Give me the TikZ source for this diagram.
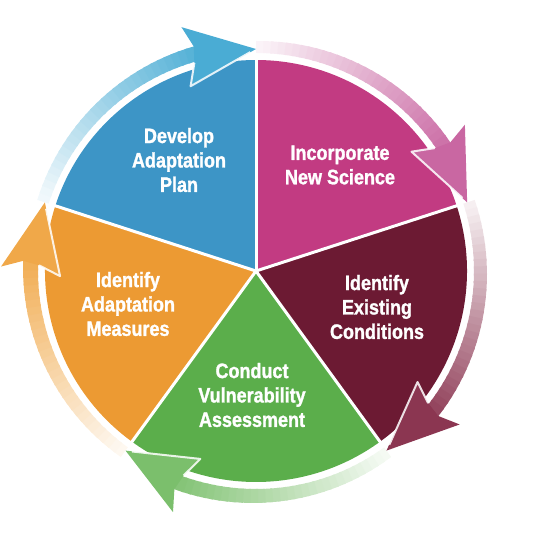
\documentclass[tikz,border=0pt]{standalone}
\usepackage{fontspec}
\setmainfont{Liberation Sans}[FakeStretch=0.86,BoldFeatures={FakeBold=1.3}]
\definecolor{planblue}{HTML}{3D95C6}
\definecolor{sciencepink}{HTML}{C23B82}
\definecolor{existred}{HTML}{6C1A33}
\definecolor{assessgreen}{HTML}{5BAE4B}
\definecolor{measureorange}{HTML}{EC9A33}
\definecolor{planarrow}{HTML}{4AACD4}
\definecolor{sciencearrow}{HTML}{C967A2}
\definecolor{existarrow}{HTML}{8B3651}
\definecolor{assessarrow}{HTML}{7BBF6C}
\definecolor{measurearrow}{HTML}{F0A849}

\begin{document}
\begin{tikzpicture}[x=1bp,y=1bp,
  steplabel/.style={text=white,font=\bfseries\fontsize{21}{24.5}\selectfont,align=center},
  gap/.style={white,line width=3bp},
  glow/.style={white,line width=2bp,opacity=0.85,line join=round}]
  \useasboundingbox (-256,-273) rectangle (279,271);
  % wheel
  \foreach \a/\c in {90/planblue,18/sciencepink,-54/existred,-126/assessgreen,-198/measureorange}
    \fill[\c] (0,0) -- (\a:211) arc[start angle=\a,end angle=\a+72,radius=211] -- cycle;
  \foreach \a in {90,18,-54,-126,162}
    \draw[gap] (0,0) -- (\a:213);
  % arrow bodies, pale at the tail
  \foreach \s/\e/\c in {162/90/planarrow,90/18/sciencearrow,18/-54/existarrow,-54/-126/assessarrow,-126/-198/measurearrow}{
    \foreach \i in {0,...,29}{
      \pgfmathsetmacro\aa{\s-(\s-\e-16)*\i/30}
      \pgfmathsetmacro\ab{\s-(\s-\e-16)*(\i+1.3)/30}
      \pgfmathtruncatemacro\pc{8+84*\i/29}
      \pgfmathsetmacro\ro{230+3*\i/29}
      \fill[\c!\pc!white] (\aa:218) arc[start angle=\aa,end angle=\ab,radius=218]
        -- (\ab:\ro) arc[start angle=\ab,end angle=\aa,radius=\ro] -- cycle;
    }
  }
  % arrow heads
  \foreach \e/\c in {90/planarrow,18/sciencearrow,-54/existarrow,-126/assessarrow,-198/measurearrow}{
    \fill[\c] (\e:222) -- ({\e+19.5}:196) -- ({\e+16.5}:217) -- ({\e+15.5}:233) -- ({\e+17}:255) -- cycle;
    \draw[glow] ({\e+1.5}:219) -- ({\e+19.5}:196) -- ({\e+16.5}:217);
  }
  % labels
  \node[steplabel] (plan) at (-77,111) {Develop\\Adaptation\\Plan};
  \node[steplabel] (science) at (84,106) {Incorporate\\New Science};
  \node[steplabel] (existing) at (121,-36) {Identify\\Existing\\Conditions};
  \node[steplabel] (assess) at (-4,-124) {Conduct\\Vulnerability\\Assessment};
  \node[steplabel] (measures) at (-128,-33) {Identify\\Adaptation\\Measures};
\end{tikzpicture}
\end{document}
